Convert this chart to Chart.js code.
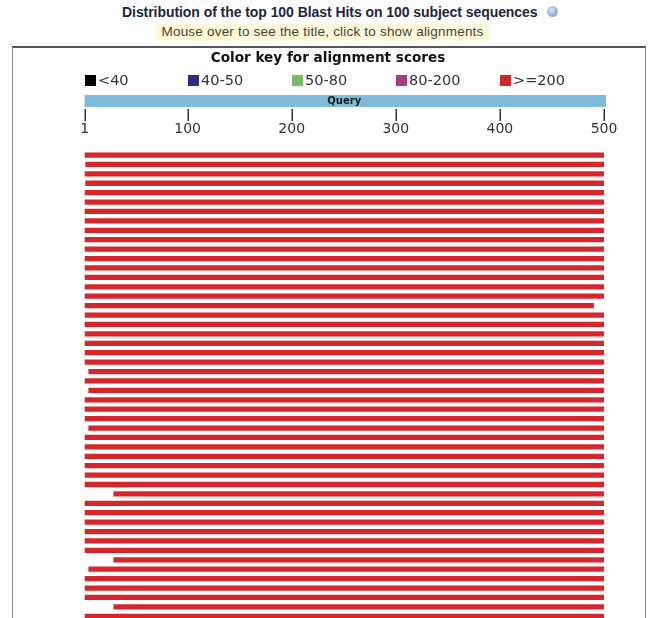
<!DOCTYPE html>
<html><head><meta charset="utf-8">
<script src="https://cdn.jsdelivr.net/npm/chart.js@4/dist/chart.umd.min.js"></script>
<style>
html,body{margin:0;padding:0;width:650px;height:618px;overflow:hidden;background:#fff;}
#head{position:absolute;left:122px;top:4px;white-space:nowrap;font:bold 14px 'Liberation Sans',Arial,sans-serif;letter-spacing:-0.06px;color:#1d2540;}
#icon{position:absolute;left:547px;top:6px;width:11px;height:11px;border-radius:50%;background:radial-gradient(circle at 40% 35%,#d6e2f2,#8ea8cf 70%,#7390bd);}
#hint{position:absolute;left:155px;top:24px;width:335px;height:17px;line-height:17px;text-align:center;background:#fdf9da;font:13.5px 'Liberation Sans',Arial,sans-serif;letter-spacing:0.2px;color:#4a4236;white-space:nowrap;}
#frame{position:absolute;left:12px;top:46px;width:632px;height:620px;border-top:2px solid #555;border-left:1px solid #888;border-right:1px solid #888;}
#wrap{position:absolute;left:0;top:48px;width:650px;height:580px;}
</style>
</head><body>
<div id="head">Distribution of the top 100 Blast Hits on 100 subject sequences</div>
<div id="icon"></div>
<div id="hint">Mouse over to see the title, click to show alignments</div>
<div id="frame"></div>
<div id="wrap"><canvas id="c" width="650" height="580"></canvas></div>
<script>
// ---- data ----
const xTickValues = [1, 100, 200, 300, 400, 500];
const keyTitle = 'Color key for alignment scores';
const keyLabels = ['<40', '40-50', '50-80', '80-200', '>=200'];
const keyColors = ['#000000', '#2b2b82', '#78bb68', '#ab3b7f', '#d5262b'];
const queryStart = 1;
const queryEnd = 500;
// visible hits (top of the list), alignment start / end on the query
const hitStarts = [
  1, 2, 1, 2, 1, 1, 1, 1, 1, 1,
  1, 1, 1, 1, 1, 1, 1, 1, 1, 1,
  1, 1, 1, 5, 1, 5, 1, 1, 1, 5,
  1, 1, 1, 1, 1, 1, 29, 1, 1, 1,
  1, 1, 1, 29, 5, 1, 1, 1, 29, 1
];
const hitEnds = [
  500, 500, 500, 500, 500, 500, 500, 500, 500, 500,
  500, 500, 500, 500, 500, 500, 490, 500, 500, 500,
  500, 500, 500, 500, 500, 500, 500, 500, 500, 500,
  500, 500, 500, 500, 500, 500, 500, 500, 500, 500,
  500, 500, 500, 500, 500, 500, 500, 500, 500, 500
];
const hitScoreClass = 4; // all visible hits are >=200
const hitLabels = hitStarts.map((s, i) => 'Hit ' + (i + 1));

const FONT = "'DejaVu Sans', Verdana, sans-serif";
Chart.defaults.font.family = FONT;

const decor = {
  id: 'decor',
  afterDraw(chart) {
    const x = chart.scales.x;
    const ctx = chart.ctx;
    ctx.save();
    // key title
    ctx.textBaseline = 'middle';
    ctx.textAlign = 'center';
    ctx.fillStyle = '#111';
    ctx.font = 'bold 13.6px ' + FONT;
    ctx.fillText(keyTitle, 328, 10);
    // color key
    ctx.textAlign = 'left';
    ctx.font = '14.5px ' + FONT;
    keyLabels.forEach((lab, i) => {
      const px = Math.round(x.getPixelForValue(xTickValues[i]));
      ctx.fillStyle = keyColors[i];
      ctx.fillRect(px, 27, 11, 11);
      ctx.fillStyle = '#333';
      ctx.fillText(lab, px + 13, 33);
    });
    // query bar
    const q0 = x.getPixelForValue(queryStart);
    const q1 = x.getPixelForValue(queryEnd);
    ctx.fillStyle = '#7dbbd8';
    ctx.fillRect(q0, 47, q1 - q0 + 2, 12);
    ctx.fillStyle = '#1a1a1a';
    ctx.font = 'bold 10px ' + FONT;
    ctx.textAlign = 'center';
    ctx.fillText('Query', (q0 + q1) / 2, 53);
    // tick marks
    ctx.strokeStyle = '#333';
    ctx.lineWidth = 1.5;
    xTickValues.forEach(v => {
      const px = Math.round(x.getPixelForValue(v)) + 0.25;
      ctx.beginPath();
      ctx.moveTo(px, 61);
      ctx.lineTo(px, 73);
      ctx.stroke();
    });
    ctx.restore();
  }
};

new Chart(document.getElementById('c'), {
  type: 'bar',
  data: {
    labels: hitLabels,
    datasets: [{
      label: keyLabels[hitScoreClass],
      data: hitStarts.map((s, i) => [s, hitEnds[i]]),
      backgroundColor: keyColors[hitScoreClass],
      borderWidth: 0,
      borderSkipped: false,
      barThickness: 4.6
    }]
  },
  options: {
    indexAxis: 'y',
    responsive: false,
    animation: false,
    layout: { padding: { top: 18.2, left: 84.6, right: 46, bottom: 7 } },
    plugins: {
      legend: { display: false },
      tooltip: { enabled: false },
      title: { display: false }
    },
    scales: {
      x: {
        type: 'linear',
        position: 'top',
        min: 1,
        max: 500,
        afterBuildTicks: s => { s.ticks = xTickValues.map(v => ({ value: v })); },
        afterFit: s => { s.height = 84.1; },
        grid: { display: false, drawTicks: false },
        border: { display: false },
        ticks: { font: { size: 14 }, color: '#333', padding: 13, maxRotation: 0, autoSkip: false }
      },
      y: {
        type: 'category',
        display: false,
        offset: true,
        grid: { display: false }
      }
    }
  },
  plugins: [decor]
});
</script>
</body></html>
